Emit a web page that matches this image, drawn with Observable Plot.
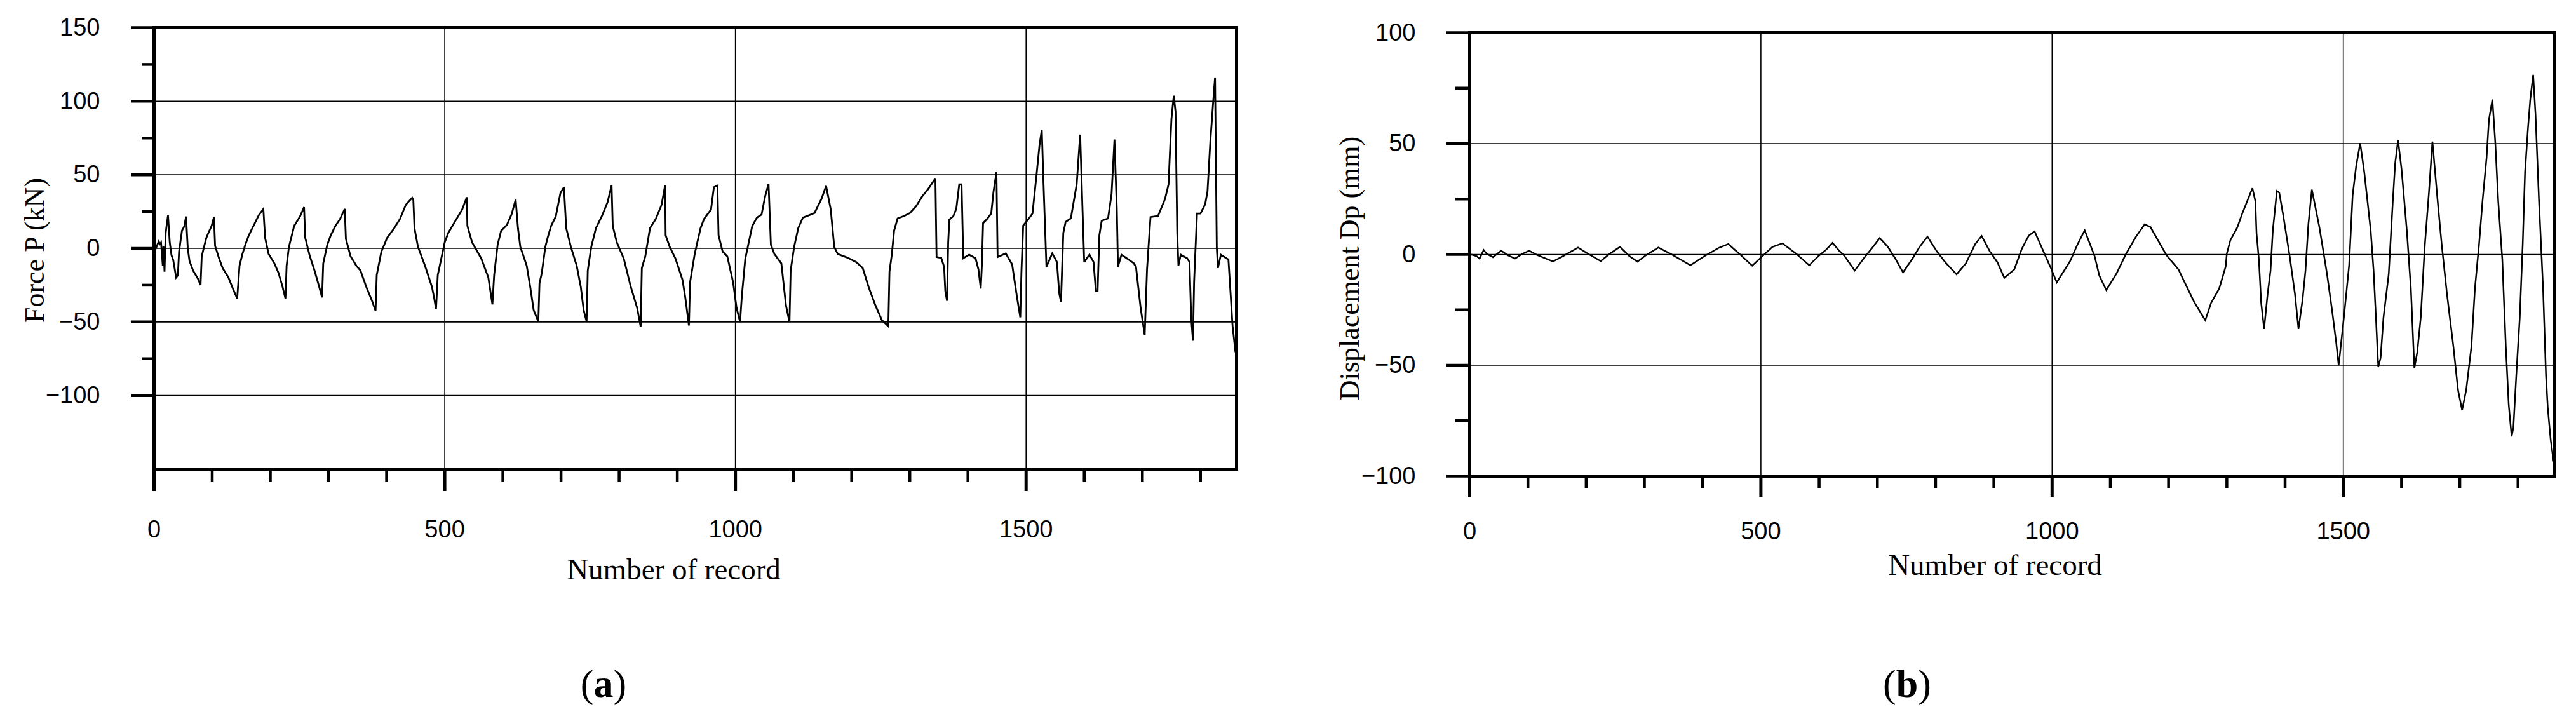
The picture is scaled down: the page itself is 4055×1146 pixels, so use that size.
<!DOCTYPE html>
<html>
<head>
<meta charset="utf-8">
<script src="https://cdn.jsdelivr.net/npm/d3@7"></script>
<script src="https://cdn.jsdelivr.net/npm/@observablehq/plot@0.6"></script>
<style>
  html, body { margin: 0; padding: 0; background: #fff; }
  #wrap { position: relative; width: 4055px; height: 1146px; background: #fff; overflow: hidden; }
  .panel { position: absolute; top: 0; }
  .cap { position: absolute; font-family: "Liberation Serif", "Times New Roman", serif; font-size: 62px; color: #000; white-space: nowrap; transform: translateX(-50%); line-height: 1; }
  .cap b { font-weight: bold; }
</style>
</head>
<body>
<div id="wrap">
  <div id="pa" class="panel" style="left:0px"></div>
  <div id="pb" class="panel" style="left:2027px"></div>
  <div class="cap" style="left:950px; top:1045px">(<b>a</b>)</div>
  <div class="cap" style="left:3002px; top:1045px">(<b>b</b>)</div>
</div>
<script>
// ---------- Panel (a): Force P (kN) vs number of record ----------
const forceRecord = [0,2,8,10,12,15,16,18,20,24,27,30,33,38,41,43,48,52,55,58,61,67,73,76,80,82,86,90,94,99,103,105,112,118,128,136,143,147,152,157,163,171,180,188,191,197,207,214,221,226,228,232,241,251,258,260,268,276,284,289,291,298,304,312,320,328,330,338,348,355,365,375,381,383,391,401,413,423,433,444,446,448,454,466,478,482,485,488,500,506,518,530,538,539,547,563,575,582,585,591,597,607,615,622,626,630,637,641,647,653,661,663,667,673,677,683,691,699,705,709,717,727,734,739,744,746,752,760,770,780,787,789,796,808,820,831,837,839,845,853,863,873,879,880,887,897,909,914,920,922,930,940,946,958,963,969,971,978,986,996,1002,1008,1011,1017,1029,1037,1045,1051,1057,1061,1067,1079,1087,1093,1095,1101,1108,1116,1136,1148,1156,1164,1170,1176,1192,1208,1219,1229,1241,1252,1263,1265,1269,1273,1279,1290,1300,1311,1321,1331,1344,1346,1354,1359,1361,1364,1366,1368,1375,1380,1385,1389,1392,1402,1413,1418,1422,1424,1426,1432,1440,1444,1449,1451,1465,1476,1484,1490,1492,1495,1505,1511,1518,1523,1527,1530,1535,1545,1553,1557,1560,1564,1568,1577,1587,1593,1597,1600,1609,1616,1620,1623,1626,1630,1641,1647,1652,1656,1658,1664,1685,1689,1697,1704,1708,1714,1727,1739,1745,1750,1754,1757,1760,1762,1766,1777,1781,1784,1787,1789,1794,1800,1808,1812,1817,1823,1825,1828,1830,1835,1848,1852,1855,1860];
const forceValue = [0,-1,4.6,3,4,-11.8,1.7,-15.8,10.5,22.5,4.1,-4.6,-8,-19.8,-18.2,-2.2,12.1,15,21.7,0,-8.6,-15,-19,-21,-24.9,-5.4,1,7.3,11,15.3,21.3,1.7,-7,-13.4,-19.8,-27.7,-34.1,-11.8,-3.8,2.5,8.9,15.3,22.5,26.8,7.3,-3.8,-10.2,-16.6,-26.1,-34.1,-11.8,1,15.3,21.7,28,7.3,-5.4,-15,-26.1,-33.3,-10.2,2.5,9,15.3,20,26.8,6.5,-5.4,-11.8,-15,-26.1,-35.7,-42.4,-18.2,-2.2,7.3,13.7,20,29.6,34.4,33,13.7,1,-11.8,-26.1,-34.1,-41.3,-18.2,4.1,10.5,18.5,26.4,34.7,15.3,4.1,-7,-19.8,-38.1,-18.2,2.5,12,16,23.2,33.1,13.7,1,-7,-11.8,-26,-42,-49.7,-23.7,-16.6,1,7.3,15.3,21.7,37.6,41.6,13.7,1,-11.8,-26.1,-42,-49.7,-15,1,13.7,21.7,31.3,42.7,15.3,4.1,-7,-26.1,-40.5,-53.2,-13.4,-5.4,13.7,20,29.6,42.7,8.9,1,-7,-21.4,-34,-52.4,-23,-3.8,13.7,20,26.4,41.6,42.7,8.9,-2.2,-5.4,-23,-40.5,-50,-32.5,-7,15.3,20.9,23,35.2,43.9,2.5,-3.8,-10.2,-38.9,-50,-15,1,13.7,20.9,24,33.6,42.4,26.4,1,-3.8,-6.2,-9.4,-13.4,-26.1,-38.9,-48.8,-52.9,-15.8,-4.3,12.2,20.4,22,24,28.7,35.2,40,47.6,-5.9,-6.5,-12.5,-29,-35.6,4,19.6,22,27,43.5,43.5,-6.7,-4.3,-6.7,-14.2,-27.3,-10.9,17.2,19.6,23.7,38.6,51.8,-5.9,-3.4,-10.9,-32.3,-46.8,-15.8,15.5,20.4,23.7,50.1,69.9,80.6,43.5,-12.5,-3.4,-9.2,-30.6,-36.4,10.5,18,20.4,43.5,77.3,26.9,-9.2,-4.3,-9.2,-29,-29,8.9,18.8,20.4,36.9,74,27,-12.5,-4.3,-10,-12.5,-40.5,-58.7,-14.2,21.3,22.1,33.6,43.5,88,103.7,93,10.5,-11.7,-4.3,-6.7,-9.2,-47.1,-62.8,-22.4,23.7,23.7,30,38.6,73.2,106,116,0.7,-13.3,-4.3,-7.6,-32.3,-52.1,-70.2];

const forceYMajor = [150, 100, 50, 0, -50, -100];
const forceYMinor = [125, 75, 25, -25, -75];
const forceYGrid = [100, 50, 0, -50, -100];

// ---------- Panel (b): Displacement Dp (mm) vs number of record ----------
const dispRecord = [0,5,12,17,24,29,40,54,65,78,90,102,115,143,160,186,205,225,241,258,273,288,303,324,348,379,403,428,444,465,485,503,520,537,561,583,599,612,623,635,643,661,676,693,704,718,731,744,760,773,786,802,818,836,852,868,879,893,906,918,935,948,960,970,985,998,1008,1031,1044,1056,1073,1081,1093,1111,1127,1144,1159,1169,1182,1196,1217,1232,1244,1263,1273,1287,1298,1300,1306,1318,1326,1335,1344,1349,1351,1355,1359,1364,1370,1375,1379,1386,1390,1397,1408,1417,1423,1430,1435,1440,1446,1459,1472,1481,1488,1492,1494,1501,1510,1516,1522,1529,1536,1547,1552,1556,1560,1564,1569,1578,1585,1589,1594,1600,1609,1616,1622,1627,1633,1640,1647,1653,1662,1669,1678,1689,1697,1704,1711,1720,1726,1733,1739,1746,1750,1756,1761,1766,1773,1779,1784,1789,1792,1797,1803,1808,1812,1817,1821,1826,1830,1836,1843,1848,1851,1856,1861];
const dispValue = [0,-0.2,-0.8,-1.9,2,0.3,-1.3,1.7,-0.3,-1.9,0.2,1.7,-0.2,-3.2,-0.8,3.1,0,-3,0.4,3.4,-0.5,-3.3,-0.3,3.1,-0.2,-4.9,-0.8,3,4.7,-0.2,-5.1,-0.7,3.4,5,0.2,-4.9,-0.7,2.1,5.2,1.5,-0.5,-7.3,-2,3.6,7.4,3.4,-2,-8.1,-2,3.6,8,1.4,-4,-9,-4,4.7,8.3,1.4,-3.5,-10.6,-6.8,2.5,8.5,10.4,1.4,-6.2,-12.6,-3,4.7,10.9,-0.8,-9.5,-16.1,-8.4,0.3,8,13.6,12.3,6.3,-0.2,-6.8,-15,-21.5,-29.7,-21.9,-15.3,-5.5,0.4,6.3,12.2,18.1,24,29.9,24,9.6,-2.2,-21.9,-33.6,-17.9,-7.4,10.9,28.6,27.9,17.4,-0.9,-17.9,-33.6,-20.5,-7.4,13.5,29.2,12.2,-8.8,-25.8,-40.2,-50,-45.4,-28.4,-4.8,26.6,39.7,50.2,37.1,10.9,-7.4,-28.4,-50.7,-46.7,-28.4,-8.8,24,41,51.5,38.4,10.9,-15.3,-51.3,-44.1,-28.4,4.3,27.9,50.9,24,4.3,-17.9,-41.5,-61.2,-70.3,-61.2,-41.5,-15.3,4.3,24,43.7,60.7,69.9,50.2,24,-2.2,-41.5,-67.7,-82.1,-78.2,-54.6,-28.4,4.3,37.1,56.7,69.9,81,63.3,24,-15.3,-54.6,-69,-83.4,-93.3];

const dispYMajor = [100, 50, 0, -50, -100];
const dispYMinor = [75, 25, -25, -75];
const dispYGrid = [50, 0, -50];

// ---------- shared x ticks ----------
const xMajor = [0, 500, 1000, 1500];
const xMinor = [100, 200, 300, 400, 600, 700, 800, 900, 1100, 1200, 1300, 1400, 1600, 1700, 1800];
const xGrid = [500, 1000, 1500];

const xTitle = "Number of record";
const forceTitle = "Force P (kN)";
const dispTitle = "Displacement Dp (mm)";

const SANS = "'Liberation Sans', Arial, sans-serif";
const SERIF = "'Liberation Serif', 'Times New Roman', serif";
const fmt = d => (d < 0 ? "\u2212" + Math.abs(d) : String(d));

function panel({records, values, xMax, yDomain, yMajor, yMinor, yGrid, yTitle,
                width, height, mL, mR, mT, mB,
                yTick, yMinorTick, yPad, xTick, xMinorTick, xPad,
                yTitleDx, yTitleDy, xTitleDx, xTitleDy, lineW}) {
  const rows = records.map((r, i) => ({record: r, value: values[i]}));
  return Plot.plot({
    width, height,
    marginLeft: mL, marginRight: mR, marginTop: mT, marginBottom: mB,
    x: {domain: [0, xMax], label: null},
    y: {domain: yDomain, label: null},
    style: {fontFamily: SANS, fontSize: "38px", background: "white", color: "black", overflow: "visible"},
    marks: [
      Plot.gridY(yGrid, {stroke: "black", strokeOpacity: 1, strokeWidth: 1.6}),
      Plot.gridX(xGrid, {stroke: "black", strokeOpacity: 1, strokeWidth: 1.6}),
      Plot.line(rows, {x: "record", y: "value", stroke: "black", strokeWidth: lineW, strokeLinejoin: "miter", strokeMiterlimit: 3}),
      Plot.frame({stroke: "black", strokeWidth: 5}),
      Plot.axisY(yMajor, {tickSize: yTick, tickPadding: yPad, strokeWidth: 4.5, fontSize: 38, fontFamily: SANS, tickFormat: fmt, label: null}),
      Plot.axisY(yMinor, {tickSize: yMinorTick, strokeWidth: 4.5, tickFormat: () => "", label: null}),
      Plot.axisX(xMajor, {tickSize: xTick, tickPadding: xPad, strokeWidth: 5, fontSize: 38, fontFamily: SANS, tickFormat: fmt, label: null}),
      Plot.axisX(xMinor, {tickSize: xMinorTick, strokeWidth: 4.5, tickFormat: () => "", label: null}),
      Plot.text([yTitle], {frameAnchor: "left", dx: yTitleDx, dy: yTitleDy, rotate: -90, textAnchor: "middle", lineAnchor: "middle", fontFamily: SERIF, fontSize: 44, fill: "black"}),
      Plot.text([xTitle], {frameAnchor: "bottom", dx: xTitleDx, dy: xTitleDy, textAnchor: "middle", lineAnchor: "middle", fontFamily: SERIF, fontSize: 47, fill: "black"})
    ]
  });
}

document.getElementById("pa").appendChild(panel({
  records: forceRecord, values: forceValue, xMax: 1862, yDomain: [-150, 150],
  yMajor: forceYMajor, yMinor: forceYMinor, yGrid: forceYGrid, yTitle: forceTitle,
  width: 2000, height: 1000, mL: 242, mR: 54, mT: 43, mB: 262,
  yTick: 35, yMinorTick: 19, yPad: 50, xTick: 35, xMinorTick: 21, xPad: 46,
  yTitleDx: -188, yTitleDy: 3, xTitleDx: -34, xTitleDy: 158, lineW: 2.8
}));

document.getElementById("pb").appendChild(panel({
  records: dispRecord, values: dispValue, xMax: 1863, yDomain: [-100, 100],
  yMajor: dispYMajor, yMinor: dispYMinor, yGrid: dispYGrid, yTitle: dispTitle,
  width: 2028, height: 1000, mL: 286, mR: 34, mT: 51, mB: 251,
  yTick: 36, yMinorTick: 22, yPad: 49, xTick: 34, xMinorTick: 19, xPad: 39,
  yTitleDx: -189, yTitleDy: 22, xTitleDx: -27, xTitleDy: 140, lineW: 2.5
}));
</script>
</body>
</html>
